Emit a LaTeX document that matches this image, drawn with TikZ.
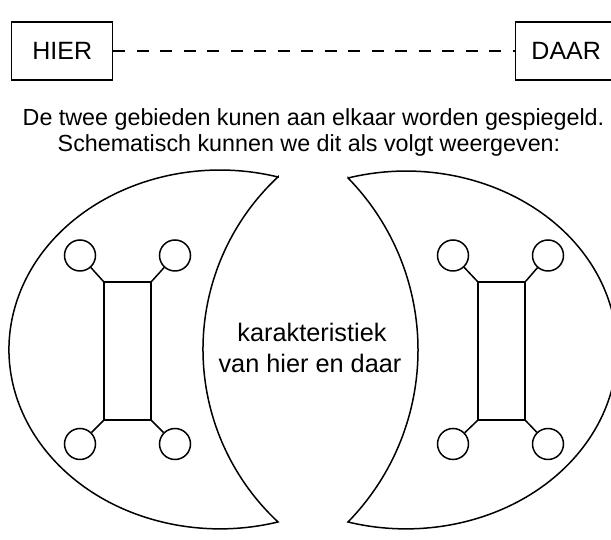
\documentclass[tikz,border=0pt]{standalone}
\usepackage{fontspec}
\setmainfont{Liberation Sans}
\begin{document}
\begin{tikzpicture}[x=1pt,y=1pt,
  line width=1.5pt,
  labelbox/.style={draw, minimum width=101pt, minimum height=58pt, inner sep=0pt,
    font=\fontsize{25}{30}\selectfont},
  titletext/.style={anchor=base, inner sep=0pt, font=\fontsize{23.3}{28}\selectfont},
  midtext/.style={anchor=base, inner sep=0pt, font=\fontsize{25.3}{30}\selectfont},
  port/.style={draw, circle, minimum size=31pt, inner sep=0pt},
  core/.style={draw, minimum width=47pt, minimum height=138pt, inner sep=0pt},
  link/.style={line width=1.5pt},
  gap/.style={dash pattern=on 12pt off 11.5pt}
]
\useasboundingbox (0,0) rectangle (611,540);
\clip (0,0) rectangle (611,540);

% top boxes
\node[labelbox] (hier) at (62.2,489) {HIER};
\node[labelbox] (daar) at (566.2,489) {DAAR};
\draw[gap] (hier.east) -- (daar.west);

% title text
\node[titletext] (t1) at (313.5,414) {De twee gebieden kunen aan elkaar worden gespiegeld.};
\node[titletext] (t2) at (309,388) {Schematisch kunnen we dit als volgt weergeven:};

% left crescent
\draw (278,363) arc[start angle=74.04, end angle=285.96, x radius=211, y radius=179.4]
      arc[start angle=227.0, end angle=133.0, radius=235.9] -- cycle;
% right crescent
\draw (348,362) arc[start angle=105.96, end angle=-105.96, x radius=211, y radius=178.9]
      arc[start angle=-44.3, end angle=44.3, radius=246.3] -- cycle;

% middle text
\node[midtext] (m1) at (312,198) {karakteristiek};
\node[midtext] (m2) at (310,167) {van hier en daar};

% left schematic
\node[core] (rl) at (127.5,189) {};
\node[port] (ltl) at (80,284.5) {};
\node[port] (ltr) at (175,284.5) {};
\node[port] (lbl) at (80,96) {};
\node[port] (lbr) at (175,96) {};
\draw[link] (rl.north west) -- (ltl);
\draw[link] (rl.north east) -- (ltr);
\draw[link] (rl.south west) -- (lbl);
\draw[link] (rl.south east) -- (lbr);

% right schematic
\node[core] (rr) at (501.5,189) {};
\node[port] (rtl) at (453,284.5) {};
\node[port] (rtr) at (548,284.5) {};
\node[port] (rbl) at (453,96) {};
\node[port] (rbr) at (548,96) {};
\draw[link] (rr.north west) -- (rtl);
\draw[link] (rr.north east) -- (rtr);
\draw[link] (rr.south west) -- (rbl);
\draw[link] (rr.south east) -- (rbr);
\end{tikzpicture}
\end{document}
